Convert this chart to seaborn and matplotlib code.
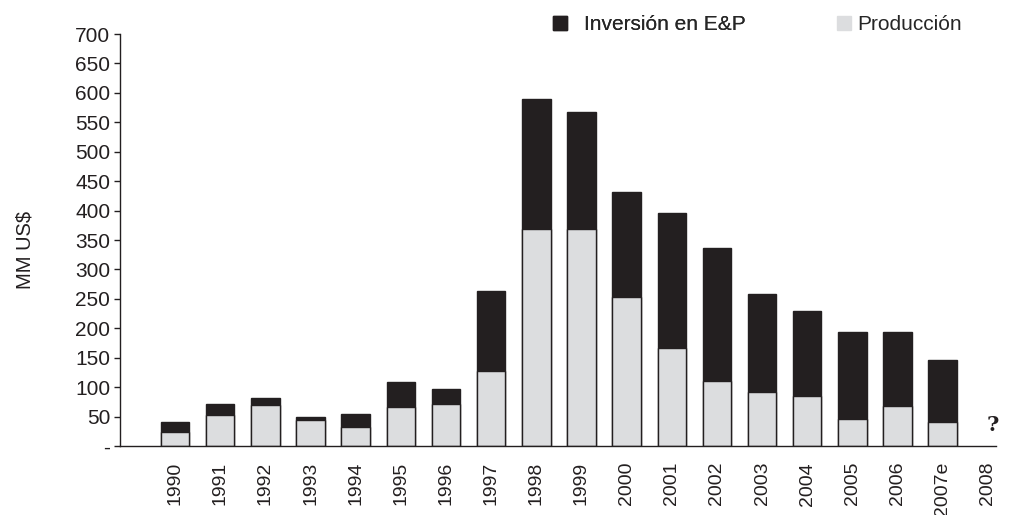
import matplotlib
matplotlib.use("Agg")
import matplotlib.pyplot as plt
import seaborn as sns
import pandas as pd
from matplotlib.patches import Patch

years = ["1990", "1991", "1992", "1993", "1994", "1995", "1996", "1997", "1998",
         "1999", "2000", "2001", "2002", "2003", "2004", "2005", "2006", "2007e", "2008"]
bar_years = years[:-1]
produccion = [23, 52, 69, 44, 32, 67, 71, 128, 368, 369, 253, 167, 111, 92, 85, 46, 68, 41]
inversion = [17, 20, 12, 5, 22, 41, 26, 136, 222, 198, 179, 229, 225, 167, 145, 148, 126, 105]
yticks = list(range(0, 701, 50))
ytick_labels = ["-"] + [str(v) for v in yticks[1:]]

DARK = "#231f20"
LIGHT = "#dcdddf"

sns.set_theme(style="white")
plt.rcParams["font.family"] = ["Liberation Sans", "DejaVu Sans"]

df = pd.DataFrame({
    "year": bar_years,
    "produccion": produccion,
    "total": [p + i for p, i in zip(produccion, inversion)],
})

fig = plt.figure(figsize=(10.12, 5.15), dpi=100)
ax = fig.add_axes([120 / 1012, 69 / 515, 876 / 1012, 412 / 515])

sns.barplot(data=df, x="year", y="total", order=years, color=DARK,
            saturation=1, width=0.63, edgecolor=DARK, linewidth=1, ax=ax)
sns.barplot(data=df, x="year", y="produccion", order=years, color=LIGHT,
            saturation=1, width=0.63, edgecolor=DARK, linewidth=1, ax=ax)

ax.set_ylim(0, 700)
ax.set_xlim(-1.22, 18.18)
ax.set_yticks(yticks)
ax.set_yticklabels(ytick_labels, fontsize=15, color="#231f20")
ax.tick_params(axis="y", which="major", left=True, length=4, width=1, color="#231f20", pad=3)
ax.tick_params(axis="x", bottom=False, pad=5.5)
ax.set_xticks(range(len(years)))
ax.set_xticklabels(years, rotation=90, fontsize=14, color="#231f20")
ax.set_xlabel("")
ax.set_ylabel("MM US$", fontsize=14.5, color="#231f20")
ax.yaxis.set_label_coords(-0.098, 0.476)

for s in ["top", "right"]:
    ax.spines[s].set_visible(False)
for s in ["left", "bottom"]:
    ax.spines[s].set_color("#231f20")
    ax.spines[s].set_linewidth(1)

ax.text(18.12, 36, "?", fontsize=15, fontweight="bold", family="DejaVu Serif",
        ha="center", va="center", color=DARK)

h1 = [Patch(facecolor=DARK, edgecolor=DARK, label="Inversión en E&P")]
h2 = [Patch(facecolor=LIGHT, edgecolor=LIGHT, label="Producción")]
leg1 = fig.legend(handles=h1, loc="center left", bbox_to_anchor=(553 / 1012, 1 - 25 / 515),
                  frameon=False, fontsize=15, handlelength=0.65, handleheight=0.65,
                  handletextpad=0.85, borderpad=0, borderaxespad=0)
fig.add_artist(leg1)
fig.legend(handles=h2, loc="center left", bbox_to_anchor=(837 / 1012, 1 - 25 / 515),
           frameon=False, fontsize=15, handlelength=0.65, handleheight=0.65,
           handletextpad=0.3, borderpad=0, borderaxespad=0)

fig.savefig("out.png", dpi=100)
